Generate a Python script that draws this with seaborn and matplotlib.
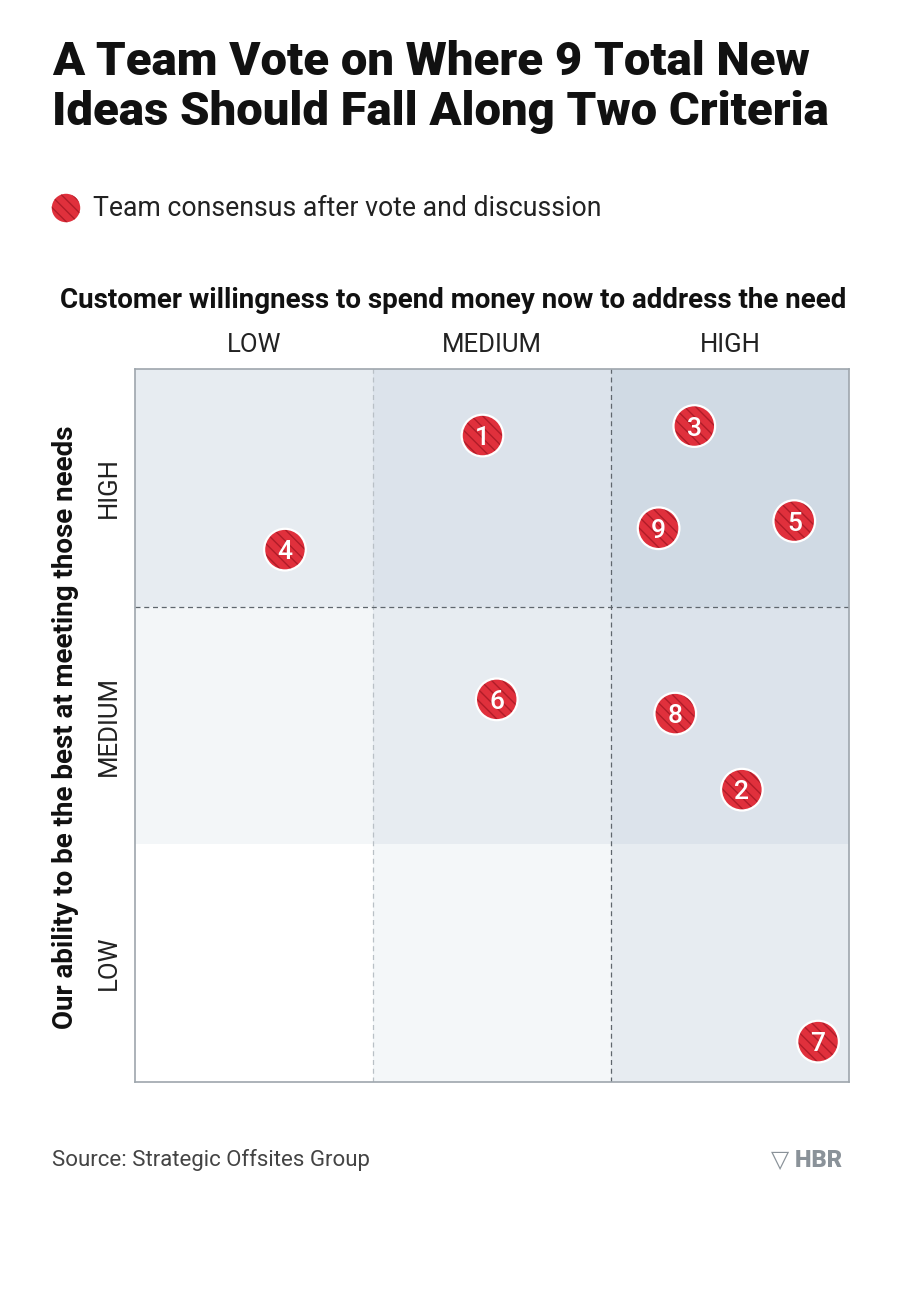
import matplotlib
matplotlib.use("Agg")
import matplotlib.pyplot as plt
from matplotlib.colors import LinearSegmentedColormap
import seaborn as sns
import numpy as np
import pandas as pd

# ---------------- data ----------------
idea_ids = ["1", "2", "3", "4", "5", "6", "7", "8", "9"]
willingness = [1.46, 2.55, 2.35, 0.63, 2.77, 1.52, 2.87, 2.27, 2.20]   # 0..3, LOW->HIGH
ability = [2.72, 1.23, 2.76, 2.24, 2.36, 1.61, 0.17, 1.55, 2.33]       # 0..3, LOW->HIGH
col_labels = ["LOW", "MEDIUM", "HIGH"]
row_labels = ["HIGH", "MEDIUM", "LOW"]
# shading intensity of each cell (rows: ability HIGH, MEDIUM, LOW)
cell_shade = [[2.0, 3.0, 4.0],
              [1.0, 2.0, 3.0],
              [0.0, 0.9, 2.0]]

title_lines = ["A Team Vote on Where 9 Total New", "Ideas Should Fall Along Two Criteria"]
legend_label = "Team consensus after vote and discussion"
x_title = "Customer willingness to spend money now to address the need"
y_title = "Our ability to be the best at meeting those needs"
source = "Source: Strategic Offsites Group"

# ---------------- style ----------------
sns.set_theme(style="white")
plt.rcParams["font.family"] = ["Roboto", "DejaVu Sans"]
plt.rcParams["hatch.linewidth"] = 1.0

W, H = 900, 1315
fig = plt.figure(figsize=(W / 100, H / 100), dpi=100)
fig.patch.set_facecolor("white")

def fx(px):
    return px / W

def fy(py):
    return 1 - py / H

ax = fig.add_axes([fx(135), fy(1082), fx(849) - fx(135), fy(369) - fy(1082)])

cmap = LinearSegmentedColormap.from_list("cells", ["#ffffff", "#d0dae4"])
sns.heatmap(pd.DataFrame(cell_shade, index=row_labels, columns=col_labels),
            ax=ax, cmap=cmap, vmin=0, vmax=4, cbar=False,
            xticklabels=False, yticklabels=False)
ax.set_xlim(0, 3)
ax.set_ylim(3, 0)
ax.set_xlabel("")
ax.set_ylabel("")

# dividers
ax.axvline(1, color="#b9c0c6", lw=0.9, ls=(0, (4, 3)))
ax.axvline(2, color="#5f666d", lw=0.9, ls=(0, (4, 3)))
ax.axhline(1, color="#5f666d", lw=0.9, ls=(0, (4, 3)))
for s in ax.spines.values():
    s.set_visible(True)
    s.set_color("#9ea6ad")
    s.set_linewidth(1.2)

# points
df = pd.DataFrame({"id": idea_ids, "x": willingness, "y": [3 - a for a in ability]})
RED = "#e0303c"
DARK = "#b01c28"
sns.scatterplot(data=df, x="x", y="y", ax=ax, s=900, color=RED,
                edgecolor=DARK, linewidth=0, hatch="\\\\\\", zorder=3, legend=False)
sns.scatterplot(data=df, x="x", y="y", ax=ax, s=900, facecolor="none",
                edgecolor="white", linewidth=1.6, zorder=4, legend=False)
for _, r in df.iterrows():
    ax.text(r["x"], r["y"], r["id"], color="white", ha="center", va="center_baseline",
            fontsize=19, fontweight="medium", zorder=5)

# column / row labels
for i, lab in enumerate(col_labels):
    ax.text(i + 0.5, -0.05, lab, ha="center", va="bottom", fontsize=18.5,
            color="#222222", clip_on=False)
for i, lab in enumerate(row_labels):
    ax.text(-0.11, i + 0.5, lab, ha="center", va="center", rotation=90, fontsize=18.5,
            color="#222222", clip_on=False)

# titles
fig.text(fx(52), fy(75), title_lines[0], ha="left", va="baseline", fontsize=34,
         fontweight="heavy", color="#111111")
fig.text(fx(52), fy(125), title_lines[1], ha="left", va="baseline", fontsize=34,
         fontweight="heavy", color="#111111")
fig.text(fx(60), fy(301), x_title, ha="left", va="center", fontsize=20,
         fontweight="bold", color="#111111")
fig.text(fx(66), fy(727), y_title, ha="center", va="center", rotation=90, fontsize=20,
         fontweight="bold", color="#111111")

# legend
lax = fig.add_axes([0, 0, 1, 1], facecolor="none")
lax.set_xlim(0, W)
lax.set_ylim(H, 0)
lax.axis("off")
lax.scatter([66], [208], s=420, color=RED, edgecolor=DARK, linewidth=0, hatch="\\\\\\")
lax.text(93, 208, legend_label, ha="left", va="center", fontsize=19.2,
         color="#222222")

# footer
fig.text(fx(52), fy(1160), source, ha="left", va="center", fontsize=16,
         color="#444444")
fig.text(fx(842), fy(1160), "\u25bd HBR", ha="right", va="center", fontsize=17,
         fontweight="heavy", color="#8a9299")

fig.savefig("out.png", dpi=100, facecolor="white")
